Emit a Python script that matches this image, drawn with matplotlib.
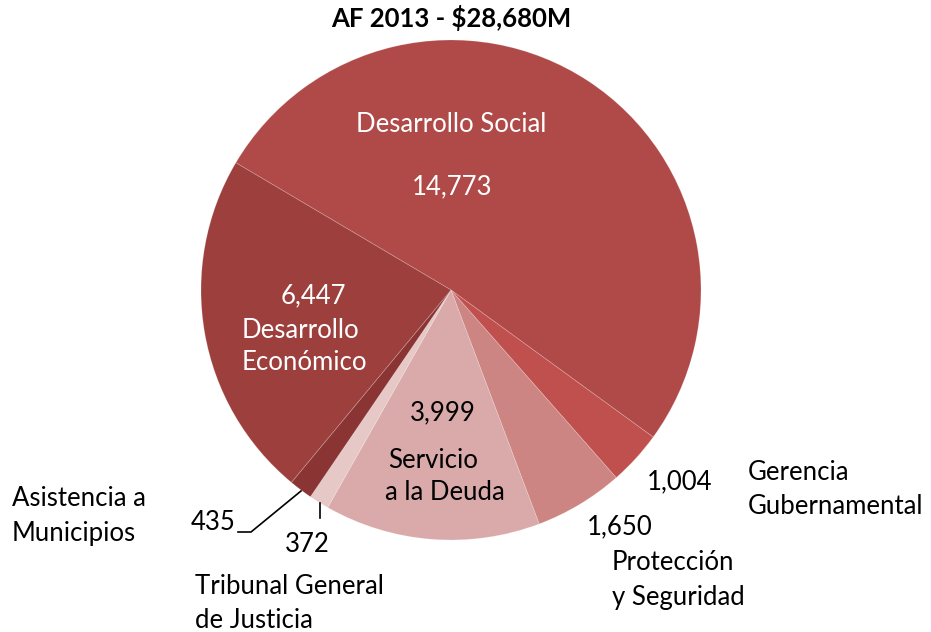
import matplotlib.pyplot as plt
import matplotlib

matplotlib.rcParams["font.family"] = ["Lato", "DejaVu Sans"]

# data
sectors = ["Desarrollo Social", "Gerencia Gubernamental", "Protección y Seguridad",
           "Servicio a la Deuda", "Tribunal General de Justicia",
           "Asistencia a Municipios", "Desarrollo Económico"]
values = [14773, 1004, 1650, 3999, 372, 435, 6447]
colors = ["#AF4A48", "#C0504D", "#CD8583", "#D9AAA9", "#E6C8C7", "#8A3534", "#9D3F3D"]
total = sum(values)

W, H = 931, 632
fig = plt.figure(figsize=(W / 100, H / 100), dpi=100)
ax = fig.add_axes([0, 0, 1, 1])

cx, cy, r = 451, H - 290, 250
ax.pie(values, colors=colors, startangle=149.4, counterclock=False,
       center=(cx, cy), radius=r, frame=True,
       wedgeprops=dict(edgecolor=(1, 1, 1, 0.2), linewidth=0.6))
ax.set_xlim(0, W)
ax.set_ylim(0, H)
ax.set_aspect("equal")
ax.axis("off")

FS = 18.5

def t(x, y, s, ha="center", color="black", **kw):
    ax.text(x, H - y, s, ha=ha, va="center", color=color, fontsize=FS, **kw)

fmt = lambda v: f"{v:,}"

ax.text(451, H - 18, f"AF 2013 - ${total:,}M", ha="center", va="center",
        fontsize=FS, fontweight="bold")

# inside labels
t(451, 124, "Desarrollo Social", color="white")
t(452, 187, fmt(values[0]), color="white")
t(313, 296, fmt(values[6]), color="white")
t(242, 330, "Desarrollo", ha="left", color="white")
t(242, 363, "Económico", ha="left", color="white")
t(443, 413, fmt(values[3]))
t(433, 460, "Servicio")
t(445, 492, "a la Deuda")

# outside labels
t(680, 482, fmt(values[1]))
t(748, 473, "Gerencia", ha="left")
t(748, 507, "Gubernamental", ha="left")
t(620, 527, fmt(values[2]))
t(612, 563, "Protección", ha="left")
t(612, 597, "y Seguridad", ha="left")
t(213, 522, fmt(values[5]))
t(12, 499, "Asistencia a", ha="left")
t(12, 533, "Municipios", ha="left")
t(307, 544, fmt(values[4]))
t(195, 587, "Tribunal General", ha="left")
t(195, 620, "de Justicia", ha="left")

# leader lines
ax.plot([301, 251, 238], [H - 491, H - 532, H - 532], color="black", lw=1.2)
ax.plot([320, 320], [H - 503, H - 518], color="black", lw=1.2)

plt.savefig("out.png", dpi=100)
